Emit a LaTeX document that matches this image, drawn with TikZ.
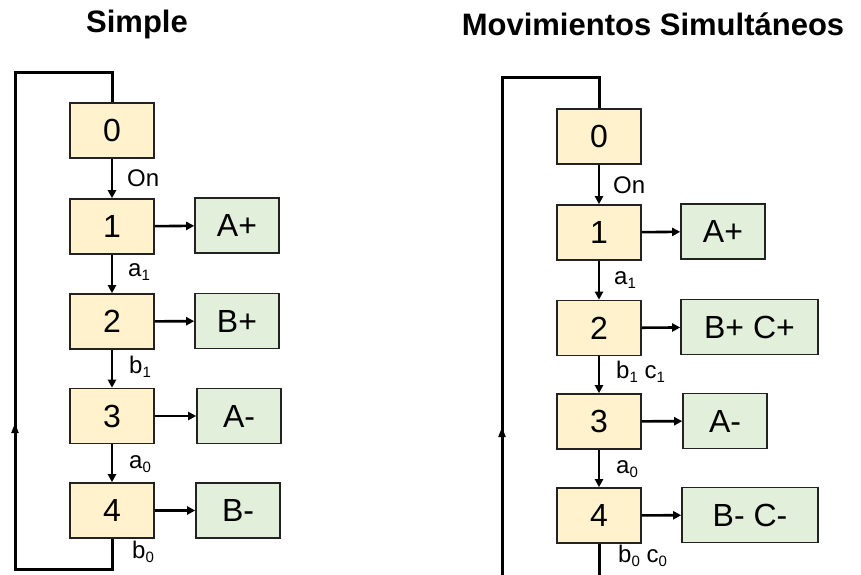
\documentclass[tikz,border=0pt]{standalone}
\usepackage{fontspec}
\setmainfont{Liberation Sans}
\usetikzlibrary{arrows.meta}
\definecolor{stfill}{HTML}{FFF2CC}
\definecolor{acfill}{HTML}{E2EFDA}
\definecolor{bord}{HTML}{222222}
\newcommand{\sbs}[1]{\raisebox{-0.35ex}{\fontsize{15}{15}\selectfont #1}}
\begin{document}
\begin{tikzpicture}[x=1pt,y=-1pt,
  stbox/.style={draw=bord,line width=1.6pt,fill=stfill,minimum width=84pt,minimum height=55pt,inner sep=0pt,font=\fontsize{32}{32}\selectfont},
  acbox/.style={draw=bord,line width=1.6pt,fill=acfill,minimum width=84pt,minimum height=55pt,inner sep=0pt,font=\fontsize{32}{32}\selectfont},
  flow/.style={line width=2.6pt,-{Triangle[length=8pt,width=8pt]}},
  loopline/.style={line width=3pt},
  lbl/.style={anchor=west,inner sep=0pt,font=\fontsize{24}{24}\selectfont},
  ttl/.style={font=\bfseries\fontsize{31}{31}\selectfont,inner sep=0pt}]
\useasboundingbox (0,0) rectangle (861,574);
% titles
\node[ttl] (t1) at (137,24) {Simple};
\node[ttl] (t2) at (653,24) {Movimientos Simultáneos};
% ===== left =====
\node[stbox] (L0) at (112,130.5) {0};
\node[stbox] (L1) at (112,226.5) {1};
\node[stbox] (L2) at (112,321.5) {2};
\node[stbox] (L3) at (112,416) {3};
\node[stbox] (L4) at (112,510.5) {4};
\node[acbox] (LA1) at (237,225.5) {A+};
\node[acbox] (LA2) at (237,321) {B+};
\node[acbox] (LA3) at (239,416) {A-};
\node[acbox] (LA4) at (238,510.5) {B-};
\draw[flow] (L0) -- (L1);
\draw[flow] (L1) -- (L2);
\draw[flow] (L2) -- (L3);
\draw[flow] (L3) -- (L4);
\draw[flow] (L1) -- (LA1);
\draw[flow] (L2) -- (LA2);
\draw[flow] (L3) -- (LA3);
\draw[flow] (L4) -- (LA4);
\node[lbl] (lon) at (127,178) {On};
\node[lbl] (la1) at (128,272) {a\sbs{1}};
\node[lbl] (lb1) at (129,367) {b\sbs{1}};
\node[lbl] (la0) at (129,464) {a\sbs{0}};
\node[lbl] (lb0) at (132,552) {b\sbs{0}};
\coordinate (Lc1) at (112,569);
\coordinate (Lc2) at (15,569);
\coordinate (Lm) at (15,423);
\coordinate (Lc3) at (15,72);
\coordinate (Lc4) at (112,72);
\draw[loopline] (L4.south) -- (Lc1) -- (Lc2) -- (Lc3) -- (Lc4) -- (L0.north);
\draw[line width=2pt,-{Triangle[length=10pt,width=7pt]}] (Lc2) -- (Lm);
% ===== right =====
\node[stbox] (R0) at (599,136.5) {0};
\node[stbox] (R1) at (599,232.5) {1};
\node[stbox] (R2) at (599,328) {2};
\node[stbox] (R3) at (599,421.5) {3};
\node[stbox] (R4) at (599,515.5) {4};
\node[acbox] (RA1) at (723,231.5) {A+};
\node[acbox,minimum width=137pt] (RA2) at (749.5,327) {B+ C+};
\node[acbox] (RA3) at (725,421) {A-};
\node[acbox,minimum width=136pt] (RA4) at (750,515) {B- C-};
\draw[flow] (R0) -- (R1);
\draw[flow] (R1) -- (R2);
\draw[flow] (R2) -- (R3);
\draw[flow] (R3) -- (R4);
\draw[flow] (R1) -- (RA1);
\draw[flow] (R2) -- (RA2);
\draw[flow] (R3) -- (RA3);
\draw[flow] (R4) -- (RA4);
\node[lbl] (ron) at (613,185) {On};
\node[lbl] (ra1) at (614,280) {a\sbs{1}};
\node[lbl] (rb1) at (616,372) {b\sbs{1} c\sbs{1}};
\node[lbl] (ra0) at (616,469) {a\sbs{0}};
\node[lbl] (rb0) at (618,556) {b\sbs{0} c\sbs{0}};
\coordinate (Rc1) at (599,590);
\coordinate (Rc2) at (502,590);
\coordinate (Rm) at (502,427);
\coordinate (Rc3) at (502,77);
\coordinate (Rc4) at (599,77);
\draw[loopline] (R4.south) -- (Rc1) -- (Rc2) -- (Rc3) -- (Rc4) -- (R0.north);
\draw[line width=2pt,-{Triangle[length=10pt,width=7pt]}] (Rc2) -- (Rm);
\end{tikzpicture}
\end{document}
